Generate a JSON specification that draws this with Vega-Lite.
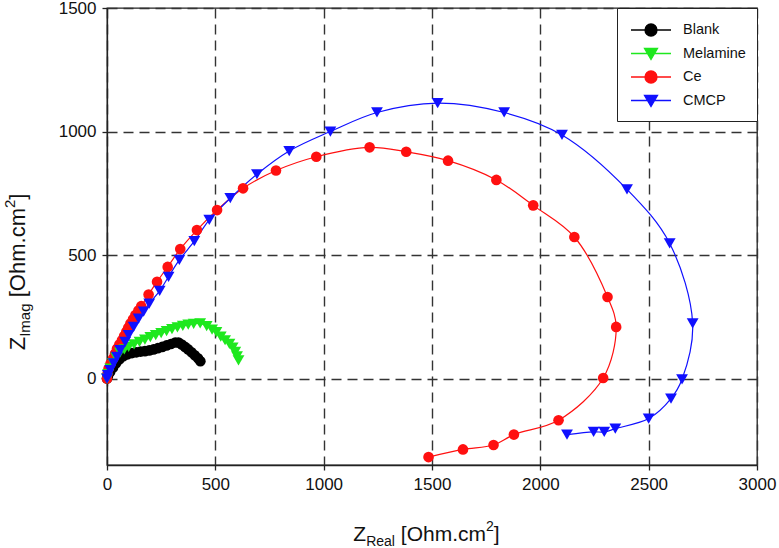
{
  "$schema": "https://vega.github.io/schema/vega-lite/v6.json",
  "width": 650,
  "height": 457,
  "autosize": {"type": "none"},
  "padding": {"left": 107, "top": 8, "right": 22, "bottom": 83},
  "background": "white",
  "config": {
    "view": {"stroke": "#222", "strokeWidth": 1.3},
    "font": "Liberation Sans",
    "axis": {
      "grid": true,
      "gridDash": [10, 6],
      "gridColor": "#333",
      "gridWidth": 1.4,
      "gridOpacity": 1,
      "tickSize": 5,
      "tickColor": "#222",
      "tickWidth": 1.3,
      "domainColor": "#222",
      "domainWidth": 1.3,
      "labelFont": "Liberation Sans",
      "labelFontSize": 17,
      "labelColor": "#111",
      "labelPadding": 6,
      "labelFlush": false,
      "labelOverlap": false,
      "format": "d",
      "title": null
    },
    "legend": {
      "orient": "top-right",
      "offset": 0,
      "strokeColor": "#222",
      "fillColor": "#ffffff",
      "padding": 11,
      "labelFont": "Liberation Sans",
      "labelFontSize": 14.5,
      "labelColor": "#111",
      "symbolSize": 400,
      "rowPadding": 3.5,
      "labelOffset": 21,
      "symbolOffset": 12,
      "symbolStrokeWidth": 1.3
    }
  },
  "datasets": {
    "eis": [
      {"s": "Blank", "i": 0, "zr": 0, "zi": 0},
      {"s": "Blank", "i": 1, "zr": 5, "zi": 12},
      {"s": "Blank", "i": 2, "zr": 15, "zi": 28},
      {"s": "Blank", "i": 3, "zr": 28, "zi": 45},
      {"s": "Blank", "i": 4, "zr": 42, "zi": 62},
      {"s": "Blank", "i": 5, "zr": 58, "zi": 78},
      {"s": "Blank", "i": 6, "zr": 75, "zi": 90},
      {"s": "Blank", "i": 7, "zr": 95, "zi": 98},
      {"s": "Blank", "i": 8, "zr": 115, "zi": 103},
      {"s": "Blank", "i": 9, "zr": 135, "zi": 106},
      {"s": "Blank", "i": 10, "zr": 155, "zi": 109},
      {"s": "Blank", "i": 11, "zr": 175, "zi": 111},
      {"s": "Blank", "i": 12, "zr": 195, "zi": 114},
      {"s": "Blank", "i": 13, "zr": 215, "zi": 118},
      {"s": "Blank", "i": 14, "zr": 235, "zi": 123},
      {"s": "Blank", "i": 15, "zr": 255, "zi": 128},
      {"s": "Blank", "i": 16, "zr": 275, "zi": 134},
      {"s": "Blank", "i": 17, "zr": 295, "zi": 140},
      {"s": "Blank", "i": 18, "zr": 315, "zi": 146},
      {"s": "Blank", "i": 19, "zr": 330, "zi": 146},
      {"s": "Blank", "i": 20, "zr": 345, "zi": 138},
      {"s": "Blank", "i": 21, "zr": 360, "zi": 128},
      {"s": "Blank", "i": 22, "zr": 375, "zi": 118},
      {"s": "Blank", "i": 23, "zr": 390, "zi": 106},
      {"s": "Blank", "i": 24, "zr": 405, "zi": 94},
      {"s": "Blank", "i": 25, "zr": 420, "zi": 82},
      {"s": "Blank", "i": 26, "zr": 431, "zi": 70},
      {"s": "Melamine", "i": 0, "zr": 0, "zi": 0},
      {"s": "Melamine", "i": 1, "zr": 5, "zi": 18},
      {"s": "Melamine", "i": 2, "zr": 15, "zi": 40},
      {"s": "Melamine", "i": 3, "zr": 28, "zi": 62},
      {"s": "Melamine", "i": 4, "zr": 42, "zi": 85},
      {"s": "Melamine", "i": 5, "zr": 60, "zi": 105},
      {"s": "Melamine", "i": 6, "zr": 80, "zi": 118},
      {"s": "Melamine", "i": 7, "zr": 100, "zi": 128},
      {"s": "Melamine", "i": 8, "zr": 125, "zi": 138},
      {"s": "Melamine", "i": 9, "zr": 150, "zi": 148},
      {"s": "Melamine", "i": 10, "zr": 175, "zi": 158},
      {"s": "Melamine", "i": 11, "zr": 200, "zi": 168},
      {"s": "Melamine", "i": 12, "zr": 225, "zi": 176},
      {"s": "Melamine", "i": 13, "zr": 250, "zi": 184},
      {"s": "Melamine", "i": 14, "zr": 275, "zi": 192},
      {"s": "Melamine", "i": 15, "zr": 300, "zi": 200},
      {"s": "Melamine", "i": 16, "zr": 325, "zi": 207},
      {"s": "Melamine", "i": 17, "zr": 350, "zi": 213},
      {"s": "Melamine", "i": 18, "zr": 375, "zi": 218},
      {"s": "Melamine", "i": 19, "zr": 400, "zi": 221},
      {"s": "Melamine", "i": 20, "zr": 430, "zi": 223},
      {"s": "Melamine", "i": 21, "zr": 460, "zi": 212},
      {"s": "Melamine", "i": 22, "zr": 485, "zi": 198},
      {"s": "Melamine", "i": 23, "zr": 505, "zi": 188},
      {"s": "Melamine", "i": 24, "zr": 525, "zi": 170},
      {"s": "Melamine", "i": 25, "zr": 545, "zi": 155},
      {"s": "Melamine", "i": 26, "zr": 565, "zi": 140},
      {"s": "Melamine", "i": 27, "zr": 580, "zi": 125},
      {"s": "Melamine", "i": 28, "zr": 592, "zi": 108},
      {"s": "Melamine", "i": 29, "zr": 600, "zi": 90},
      {"s": "Melamine", "i": 30, "zr": 607, "zi": 74},
      {"s": "Ce", "i": 0, "zr": 0, "zi": 0},
      {"s": "Ce", "i": 1, "zr": 2, "zi": 18},
      {"s": "Ce", "i": 2, "zr": 7, "zi": 40},
      {"s": "Ce", "i": 3, "zr": 16, "zi": 60},
      {"s": "Ce", "i": 4, "zr": 28, "zi": 81},
      {"s": "Ce", "i": 5, "zr": 37, "zi": 100},
      {"s": "Ce", "i": 6, "zr": 46, "zi": 121},
      {"s": "Ce", "i": 7, "zr": 57, "zi": 138},
      {"s": "Ce", "i": 8, "zr": 69, "zi": 155},
      {"s": "Ce", "i": 9, "zr": 79, "zi": 172},
      {"s": "Ce", "i": 10, "zr": 89, "zi": 189},
      {"s": "Ce", "i": 11, "zr": 98, "zi": 206},
      {"s": "Ce", "i": 12, "zr": 108, "zi": 223},
      {"s": "Ce", "i": 13, "zr": 120, "zi": 240},
      {"s": "Ce", "i": 14, "zr": 131, "zi": 257},
      {"s": "Ce", "i": 15, "zr": 145, "zi": 275},
      {"s": "Ce", "i": 16, "zr": 158, "zi": 293},
      {"s": "Ce", "i": 17, "zr": 192, "zi": 340},
      {"s": "Ce", "i": 18, "zr": 231, "zi": 392},
      {"s": "Ce", "i": 19, "zr": 280, "zi": 452},
      {"s": "Ce", "i": 20, "zr": 338, "zi": 524},
      {"s": "Ce", "i": 21, "zr": 415, "zi": 601},
      {"s": "Ce", "i": 22, "zr": 508, "zi": 682},
      {"s": "Ce", "i": 23, "zr": 628, "zi": 770},
      {"s": "Ce", "i": 24, "zr": 780, "zi": 842},
      {"s": "Ce", "i": 25, "zr": 966, "zi": 898},
      {"s": "Ce", "i": 26, "zr": 1212, "zi": 936},
      {"s": "Ce", "i": 27, "zr": 1381, "zi": 918},
      {"s": "Ce", "i": 28, "zr": 1574, "zi": 882},
      {"s": "Ce", "i": 29, "zr": 1797, "zi": 804},
      {"s": "Ce", "i": 30, "zr": 1967, "zi": 701},
      {"s": "Ce", "i": 31, "zr": 2157, "zi": 573},
      {"s": "Ce", "i": 32, "zr": 2310, "zi": 330},
      {"s": "Ce", "i": 33, "zr": 2350, "zi": 209},
      {"s": "Ce", "i": 34, "zr": 2290, "zi": 2},
      {"s": "Ce", "i": 35, "zr": 2084, "zi": -169},
      {"s": "Ce", "i": 36, "zr": 1878, "zi": -227},
      {"s": "Ce", "i": 37, "zr": 1784, "zi": -269},
      {"s": "Ce", "i": 38, "zr": 1643, "zi": -287},
      {"s": "Ce", "i": 39, "zr": 1484, "zi": -318},
      {"s": "CMCP", "i": 0, "zr": 0, "zi": 0},
      {"s": "CMCP", "i": 1, "zr": 4, "zi": 14},
      {"s": "CMCP", "i": 2, "zr": 15, "zi": 34},
      {"s": "CMCP", "i": 3, "zr": 31, "zi": 61},
      {"s": "CMCP", "i": 4, "zr": 46, "zi": 88},
      {"s": "CMCP", "i": 5, "zr": 61, "zi": 115},
      {"s": "CMCP", "i": 6, "zr": 84, "zi": 148},
      {"s": "CMCP", "i": 7, "zr": 100, "zi": 176},
      {"s": "CMCP", "i": 8, "zr": 123, "zi": 209},
      {"s": "CMCP", "i": 9, "zr": 146, "zi": 243},
      {"s": "CMCP", "i": 10, "zr": 169, "zi": 271},
      {"s": "CMCP", "i": 11, "zr": 195, "zi": 303},
      {"s": "CMCP", "i": 12, "zr": 243, "zi": 355},
      {"s": "CMCP", "i": 13, "zr": 284, "zi": 412},
      {"s": "CMCP", "i": 14, "zr": 334, "zi": 480},
      {"s": "CMCP", "i": 15, "zr": 403, "zi": 556},
      {"s": "CMCP", "i": 16, "zr": 472, "zi": 642},
      {"s": "CMCP", "i": 17, "zr": 569, "zi": 730},
      {"s": "CMCP", "i": 18, "zr": 692, "zi": 827},
      {"s": "CMCP", "i": 19, "zr": 841, "zi": 921},
      {"s": "CMCP", "i": 20, "zr": 1031, "zi": 1000},
      {"s": "CMCP", "i": 21, "zr": 1246, "zi": 1077},
      {"s": "CMCP", "i": 22, "zr": 1526, "zi": 1115},
      {"s": "CMCP", "i": 23, "zr": 1833, "zi": 1077},
      {"s": "CMCP", "i": 24, "zr": 2100, "zi": 986},
      {"s": "CMCP", "i": 25, "zr": 2400, "zi": 766},
      {"s": "CMCP", "i": 26, "zr": 2597, "zi": 547},
      {"s": "CMCP", "i": 27, "zr": 2703, "zi": 223},
      {"s": "CMCP", "i": 28, "zr": 2654, "zi": -3},
      {"s": "CMCP", "i": 29, "zr": 2603, "zi": -81},
      {"s": "CMCP", "i": 30, "zr": 2500, "zi": -162},
      {"s": "CMCP", "i": 31, "zr": 2346, "zi": -203},
      {"s": "CMCP", "i": 32, "zr": 2295, "zi": -216},
      {"s": "CMCP", "i": 33, "zr": 2246, "zi": -216},
      {"s": "CMCP", "i": 34, "zr": 2123, "zi": -227}
    ]
  },
  "layer": [
    {
      "data": {"name": "eis"},
      "mark": {"type": "line", "interpolate": "catmull-rom", "strokeWidth": 1.2, "clip": true},
      "encoding": {
        "x": {"field": "zr", "type": "quantitative", "scale": {"domain": [0, 3000], "nice": false, "zero": false}, "axis": {"values": [0, 500, 1000, 1500, 2000, 2500, 3000]}},
        "y": {"field": "zi", "type": "quantitative", "scale": {"domain": [-350, 1500], "nice": false, "zero": false}, "axis": {"values": [0, 500, 1000, 1500]}},
        "color": {
          "field": "s", "type": "nominal",
          "scale": {"domain": ["Blank", "Melamine", "Ce", "CMCP"], "range": ["#000000", "#1ee81e", "#ff1010", "#1010ff"]},
          "legend": {
            "title": null,
            "encode": {
              "symbols": {
                "update": {
                  "shape": {"signal": "(datum.value == 'Blank' || datum.value == 'Ce') ? 'M-2,0H2M0.6,0A0.6,0.6,0,1,1,-0.6,0A0.6,0.6,0,1,1,0.6,0Z' : 'M-2,0H2M-0.65,-0.5L0.65,-0.5L0,0.6Z'"},
                  "fill": {"scale": "color", "field": "value"},
                  "stroke": {"scale": "color", "field": "value"},
                  "opacity": {"value": 1},
                  "fillOpacity": {"value": 1}
                }
              }
            }
          }
        },
        "detail": {"field": "s"},
        "order": {"field": "i", "type": "quantitative"}
      }
    },
    {
      "data": {"name": "eis"},
      "transform": [{"filter": "datum.s == 'Blank' || datum.s == 'Ce'"}],
      "mark": {"type": "point", "filled": true, "opacity": 1, "size": 113, "shape": "circle"},
      "encoding": {
        "x": {"field": "zr", "type": "quantitative"},
        "y": {"field": "zi", "type": "quantitative"},
        "color": {"field": "s", "type": "nominal"}
      }
    },
    {
      "data": {"name": "eis"},
      "transform": [{"filter": "datum.s == 'Melamine' || datum.s == 'CMCP'"}],
      "mark": {"type": "point", "filled": true, "opacity": 1, "size": 140, "shape": "triangle-down"},
      "encoding": {
        "x": {"field": "zr", "type": "quantitative"},
        "y": {"field": "zi", "type": "quantitative"},
        "color": {"field": "s", "type": "nominal"}
      }
    },
    {"data": {"values": [{}]}, "mark": {"type": "text", "text": "Z", "fontSize": 21, "align": "left", "baseline": "alphabetic", "color": "#111"}, "encoding": {"x": {"datum": 1137, "type": "quantitative"}, "y": {"datum": -659, "type": "quantitative"}}},
    {"data": {"values": [{}]}, "mark": {"type": "text", "text": "Real", "fontSize": 14, "align": "left", "baseline": "alphabetic", "color": "#111"}, "encoding": {"x": {"datum": 1196, "type": "quantitative"}, "y": {"datum": -679, "type": "quantitative"}}},
    {"data": {"values": [{}]}, "mark": {"type": "text", "text": "[Ohm.cm", "fontSize": 21, "align": "left", "baseline": "alphabetic", "color": "#111"}, "encoding": {"x": {"datum": 1356, "type": "quantitative"}, "y": {"datum": -659, "type": "quantitative"}}},
    {"data": {"values": [{}]}, "mark": {"type": "text", "text": "2", "fontSize": 14, "align": "left", "baseline": "alphabetic", "color": "#111"}, "encoding": {"x": {"datum": 1749, "type": "quantitative"}, "y": {"datum": -618, "type": "quantitative"}}},
    {"data": {"values": [{}]}, "mark": {"type": "text", "text": "]", "fontSize": 21, "align": "left", "baseline": "alphabetic", "color": "#111"}, "encoding": {"x": {"datum": 1785, "type": "quantitative"}, "y": {"datum": -659, "type": "quantitative"}}},
    {"data": {"values": [{}]}, "mark": {"type": "text", "text": "Z", "fontSize": 22, "align": "left", "baseline": "alphabetic", "angle": 270, "color": "#111"}, "encoding": {"x": {"datum": -378, "type": "quantitative"}, "y": {"datum": 115, "type": "quantitative"}}},
    {"data": {"values": [{}]}, "mark": {"type": "text", "text": "Imag", "fontSize": 15, "align": "left", "baseline": "alphabetic", "angle": 270, "color": "#111"}, "encoding": {"x": {"datum": -355, "type": "quantitative"}, "y": {"datum": 169, "type": "quantitative"}}},
    {"data": {"values": [{}]}, "mark": {"type": "text", "text": "[Ohm.cm", "fontSize": 22, "align": "left", "baseline": "alphabetic", "angle": 270, "color": "#111"}, "encoding": {"x": {"datum": -378, "type": "quantitative"}, "y": {"datum": 329, "type": "quantitative"}}},
    {"data": {"values": [{}]}, "mark": {"type": "text", "text": "2", "fontSize": 15, "align": "left", "baseline": "alphabetic", "angle": 270, "color": "#111"}, "encoding": {"x": {"datum": -424, "type": "quantitative"}, "y": {"datum": 690, "type": "quantitative"}}},
    {"data": {"values": [{}]}, "mark": {"type": "text", "text": "]", "fontSize": 22, "align": "left", "baseline": "alphabetic", "angle": 270, "color": "#111"}, "encoding": {"x": {"datum": -378, "type": "quantitative"}, "y": {"datum": 724, "type": "quantitative"}}}
  ]
}
